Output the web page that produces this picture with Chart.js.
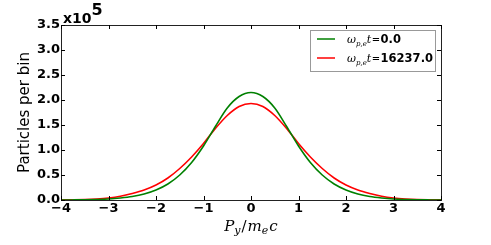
<!DOCTYPE html>
<html><head><meta charset="utf-8">
<script src="https://cdn.jsdelivr.net/npm/chart.js@4"></script>
<style>html,body{margin:0;padding:0;background:#fff}</style>
</head><body>
<canvas id="c" width="491" height="245" style="width:491px;height:245px;display:block"></canvas>
<script>
// Momentum values P_y / m_e c
const momentum = [-4,-3.75,-3.5,-3.25,-3,-2.75,-2.5,-2.25,-2,-1.75,-1.5,-1.25,-1,-0.75,-0.5,-0.25,0,0.25,0.5,0.75,1,1.25,1.5,1.75,2,2.25,2.5,2.75,3,3.25,3.5,3.75,4];
// Particles per bin, in units of 10^5
const countsT0 = [0.0005,0.0015,0.004,0.01,0.02,0.04,0.07,0.12,0.2,0.32,0.5,0.75,1.08,1.47,1.84,2.07,2.15,2.07,1.84,1.47,1.08,0.75,0.5,0.32,0.2,0.12,0.07,0.04,0.02,0.01,0.004,0.0015,0.0005];
const countsT1 = [0.0015,0.004,0.009,0.02,0.04,0.075,0.13,0.2,0.3,0.44,0.63,0.86,1.13,1.43,1.69,1.87,1.93,1.87,1.69,1.43,1.13,0.86,0.63,0.44,0.3,0.2,0.13,0.075,0.04,0.02,0.009,0.004,0.0015];
const xTicks = [-4,-3,-2,-1,0,1,2,3,4];
const yTicks = [0,0.5,1,1.5,2,2.5,3,3.5];
const legendValues = ['0.0','16237.0'];
const seriesColors = ['#008000','#ff0000'];

function pts(ys){ return momentum.map((x,i)=>({x:x,y:ys[i]})); }

function drawRich(ctx, parts, x, y, align){
  let w = 0;
  parts.forEach(p=>{ ctx.font=p.font; w += ctx.measureText(p.t).width + (p.sp||0); });
  let cx = align==='center' ? x - w/2 : x;
  ctx.textBaseline='alphabetic'; ctx.textAlign='left';
  parts.forEach(p=>{ ctx.font=p.font; ctx.fillText(p.t, cx, y + (p.dy||0)); cx += ctx.measureText(p.t).width + (p.sp||0); });
  return w;
}

const decor = {
  id:'decor',
  afterDraw(chart){
    const ctx = chart.ctx, a = chart.chartArea, xs = chart.scales.x, ys = chart.scales.y;
    ctx.save();
    ctx.strokeStyle='#222'; ctx.lineWidth=1;
    ctx.strokeRect(Math.round(a.left)+0.5, Math.round(a.top)+0.5, Math.round(a.right-a.left), Math.round(a.bottom-a.top));
    ctx.beginPath();
    xTicks.forEach(v=>{ const px=Math.round(xs.getPixelForValue(v))+0.5;
      ctx.moveTo(px,a.bottom); ctx.lineTo(px,a.bottom-4);
      ctx.moveTo(px,a.top); ctx.lineTo(px,a.top+4); });
    yTicks.forEach(v=>{ const py=Math.round(ys.getPixelForValue(v))+0.5;
      ctx.moveTo(a.left,py); ctx.lineTo(a.left+4,py);
      ctx.moveTo(a.right,py); ctx.lineTo(a.right-4,py); });
    ctx.strokeStyle='#000'; ctx.stroke();
    ctx.fillStyle='#000';
    drawRich(ctx,[{t:'x10',font:'bold 14px "DejaVu Sans"'},{t:'5',font:'bold 16px "DejaVu Sans"',dy:-8}], a.left+2, 23, 'left');
    drawRich(ctx,[
      {t:'P',font:'italic 15px "DejaVu Serif"'},
      {t:'y',font:'italic 11px "DejaVu Serif"',dy:3,sp:1},
      {t:'/',font:'15px "DejaVu Serif"',sp:1},
      {t:'m',font:'italic 15px "DejaVu Serif"'},
      {t:'e',font:'italic 11px "DejaVu Serif"',dy:3,sp:1},
      {t:'c',font:'italic 15px "DejaVu Serif"'}], (a.left+a.right)/2, 231, 'center');
    ctx.fillStyle='#fff'; ctx.strokeStyle='#999'; ctx.lineWidth=1;
    ctx.fillRect(310.5,30.5,125,41); ctx.strokeRect(310.5,30.5,125,41);
    ctx.fillStyle='#000';
    [39,58].forEach((ly,i)=>{
      ctx.beginPath(); ctx.moveTo(317,ly); ctx.lineTo(335,ly);
      ctx.strokeStyle=seriesColors[i]; ctx.lineWidth=1.5; ctx.stroke();
      drawRich(ctx,[
        {t:'ω',font:'italic 11px "DejaVu Serif"'},
        {t:'p,e',font:'italic 7px "DejaVu Serif"',dy:2.5},
        {t:'t',font:'italic 11px "DejaVu Serif"',sp:0.5},
        {t:'=',font:'10px "DejaVu Sans"',sp:0.5},
        {t:legendValues[i],font:'bold 11.5px "DejaVu Sans"'}], 347, ly+4, 'left');
    });
    ctx.restore();
  }
};

new Chart(document.getElementById('c'), {
  type:'line',
  data:{ datasets:[
    {label:'t0', data:pts(countsT0), borderColor:seriesColors[0], borderWidth:1.6, pointRadius:0, cubicInterpolationMode:'monotone', fill:false},
    {label:'t1', data:pts(countsT1), borderColor:seriesColors[1], borderWidth:1.6, pointRadius:0, cubicInterpolationMode:'monotone', fill:false}
  ]},
  options:{
    responsive:false, animation:false, devicePixelRatio:1,
    layout:{padding:{top:25,right:50,bottom:0,left:16}},
    plugins:{legend:{display:false}, tooltip:{enabled:false}},
    scales:{
      x:{type:'linear', min:-4, max:4,
        afterBuildTicks(s){ s.ticks = xTicks.map(v=>({value:v})); },
        afterFit(s){ s.height = 45; },
        grid:{display:false, drawTicks:false, tickLength:0}, border:{display:false},
        ticks:{padding:1, color:'#000', font:{family:'DejaVu Sans', size:13, weight:'bold'},
          callback:v=>String(v).replace('-','\u2212')}},
      y:{type:'linear', min:0, max:3.5,
        afterBuildTicks(s){ s.ticks = yTicks.map(v=>({value:v})); },
        afterFit(s){ s.width = 45; },
        grid:{display:false, drawTicks:false, tickLength:0}, border:{display:false},
        title:{display:true, text:'Particles per bin', color:'#000', font:{family:'DejaVu Sans', size:15}, padding:{top:0,bottom:0}},
        ticks:{padding:1, color:'#000', font:{family:'DejaVu Sans', size:13, weight:'bold'},
          callback:v=>v.toFixed(1)}}
    }
  },
  plugins:[decor]
});
</script>
</body></html>
